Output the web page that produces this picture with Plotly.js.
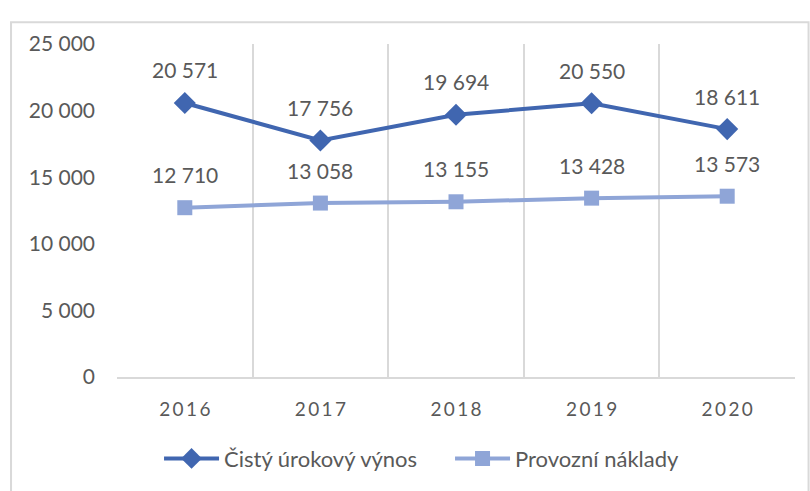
<!DOCTYPE html>
<html><head><meta charset="utf-8">
<script src="https://cdn.plot.ly/plotly-3.0.1.min.js"></script>
<style>body{margin:0;background:#fff}#c{width:810px;height:491px}</style>
</head><body><div id="c"></div>
<script>
const years = ["2016","2017","2018","2019","2020"];
const urokovyVynos = [20571, 17756, 19694, 20550, 18611];
const provozniNaklady = [12710, 13058, 13155, 13428, 13573];
const seriesNames = ["Čistý úrokový výnos", "Provozní náklady"];
const yTicks = [0, 5000, 10000, 15000, 20000, 25000];

const idx = years.map((_, i) => i);
const spaced = years.map(y => y.split("").join("\u2009"));
const fmt = v => String(v).replace(/\B(?=(\d{3})+(?!\d))/g, " ");
const fontFam = "Lato, 'Open Sans', sans-serif";
const gray = "#595959";

const traces = [
  {x: idx, y: urokovyVynos, name: seriesNames[0], type: "scatter", mode: "lines+markers",
   line: {color: "#4066b0", width: 4}, marker: {symbol: "diamond", size: 17, color: "#4066b0"}},
  {x: idx, y: provozniNaklady, name: seriesNames[1], type: "scatter", mode: "lines+markers",
   line: {color: "#8fa5d7", width: 4}, marker: {symbol: "square", size: 15, color: "#8fa5d7"}}
];

const annotations = [];
[urokovyVynos, provozniNaklady].forEach(arr => arr.forEach((v, i) => {
  annotations.push({x: i, y: v, xref: "x", yref: "y", text: fmt(v), showarrow: false,
    yshift: 33, font: {family: fontFam, size: 21, color: gray}});
}));

const layout = {
  width: 810, height: 491,
  margin: {l: 117, r: 15, t: 44, b: 111},
  paper_bgcolor: "#fff", plot_bgcolor: "#fff",
  showlegend: true,
  legend: {orientation: "h", x: 0.062, xanchor: "left", y: -0.245, yanchor: "middle",
    font: {family: fontFam, size: 22, color: gray}, itemwidth: 55, entrywidth: 221, traceorder: "normal"},
  xaxis: {range: [-0.5, 4.5], tickmode: "array", tickvals: idx, ticktext: spaced,
    showgrid: false, zeroline: false, showline: true, linecolor: "#d9d9d9", linewidth: 2,
    ticks: "", ticklabelstandoff: 14, tickfont: {family: fontFam, size: 19, color: gray},
    minor: {tickmode: "linear", tick0: -0.5, dtick: 1, showgrid: true, gridcolor: "#d9d9d9", gridwidth: 2, ticks: ""},
    fixedrange: true},
  yaxis: {range: [0, 25000], tickmode: "array", tickvals: yTicks, ticktext: yTicks.map(fmt),
    showgrid: false, zeroline: false, showline: false, ticks: "", ticklabelstandoff: 21,
    tickfont: {family: fontFam, size: 21, color: gray}, fixedrange: true},
  annotations: annotations,
  shapes: [
    {type: "rect", xref: "paper", yref: "paper", x0: -0.1563, x1: 1.02, y0: -0.35, y1: 1.0655,
     line: {color: "#d9d9d9", width: 2}, fillcolor: "rgba(0,0,0,0)", layer: "below"}
  ]
};
Plotly.newPlot("c", traces, layout, {displayModeBar: false, staticPlot: true});
</script></body></html>
